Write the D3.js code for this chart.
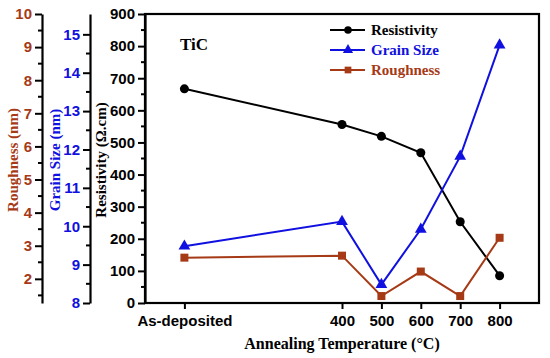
<!DOCTYPE html>
<html>
<head>
<meta charset="utf-8">
<script src="https://cdn.jsdelivr.net/npm/d3@7"></script>
<style>
body { margin: 0; background: white; }
svg { font-family: "Liberation Serif", "Times New Roman", serif; font-weight: bold; }
</style>
</head>
<body>
<svg id="mysvg" width="550" height="358"></svg>
<script>
// temperatures, 0 = as-deposited
let temps = [0, 400, 500, 600, 700, 800];
let tempTicks = [0, 400, 500, 600, 700, 800];
let tempLabels = ["As-deposited", "400", "500", "600", "700", "800"];

let resistivity = [667, 556, 519, 468, 253, 85];
let grainSize = [9.48, 10.12, 8.48, 9.92, 11.82, 14.72];
let roughness = [2.64, 2.7, 1.48, 2.22, 1.48, 3.24];

let resTicks = [0, 100, 200, 300, 400, 500, 600, 700, 800, 900];
let grainTicks = [8, 9, 10, 11, 12, 13, 14, 15];
let roughTicks = [2, 3, 4, 5, 6, 7, 8, 9, 10];

let blue = "#1010e0";
let brown = "#a63a16";

let plotLeft = 145, plotRight = 539, plotTop = 14, plotBottom = 303;

let svg = d3.select('#mysvg');

let x = d3.scaleLinear().domain([-100, 900]).range([plotLeft, plotRight]);
let yRes = d3.scaleLinear().domain([0, 900]).range([plotBottom, plotTop]);
let yGrain = d3.scaleLinear().domain([8, 15.53]).range([plotBottom, plotTop]);
let yRough = d3.scaleLinear().domain([1.27, 10]).range([plotBottom, plotTop]);

function styleAxis(g, color)
{
    g.select(".domain").attr("stroke", color).attr("stroke-width", 2.2);
    g.selectAll(".tick line").attr("stroke", color).attr("stroke-width", 2);
    g.selectAll(".tick text").attr("fill", color).style("font-size", "15px").style("font-weight", "bold");
}

function minorTicks(g, scale, xpos, values, color)
{
    g.append("g").selectAll("line")
        .data(values)
        .enter()
        .append("line")
        .attr("x1", xpos)
        .attr("x2", xpos - 4)
        .attr("y1", d => scale(d))
        .attr("y2", d => scale(d))
        .attr("stroke", color)
        .attr("stroke-width", 2);
}

// frame
svg.append("rect")
    .attr("x", plotLeft).attr("y", plotTop)
    .attr("width", plotRight - plotLeft).attr("height", plotBottom - plotTop)
    .attr("fill", "none").attr("stroke", "black").attr("stroke-width", 2.2);

// resistivity axis
let gRes = svg.append("g").attr("transform", "translate(" + plotLeft + ",0)")
    .call(d3.axisLeft(yRes).tickValues(resTicks).tickSize(7).tickSizeOuter(0).tickPadding(3));
styleAxis(gRes, "black");
minorTicks(svg, yRes, plotLeft, d3.range(50, 900, 100), "black");

// grain size axis
let gAxisX = 90;
let gGrain = svg.append("g").attr("transform", "translate(" + gAxisX + ",0)")
    .call(d3.axisLeft(yGrain).tickValues(grainTicks).tickSize(7).tickSizeOuter(0).tickPadding(3));
styleAxis(gGrain, "black");
gGrain.selectAll(".tick text").attr("fill", blue);
minorTicks(svg, yGrain, gAxisX, d3.range(8.5, 15.5, 1), "black");

// roughness axis
let rAxisX = 42;
let gRough = svg.append("g").attr("transform", "translate(" + rAxisX + ",0)")
    .call(d3.axisLeft(yRough).tickValues(roughTicks).tickSize(7).tickSizeOuter(0).tickPadding(3));
styleAxis(gRough, "black");
gRough.selectAll(".tick text").attr("fill", brown);
minorTicks(svg, yRough, rAxisX, d3.range(1.5, 10, 1), "black");

// x axis
let gx = svg.append("g").attr("transform", "translate(0," + plotBottom + ")")
    .call(d3.axisBottom(x).tickValues(tempTicks).tickSize(6).tickSizeOuter(0).tickPadding(6)
        .tickFormat((d, i) => tempLabels[i]));
styleAxis(gx, "black");
gx.select(".domain").remove();

// axis titles
svg.append("text")
    .attr("transform", "translate(18,160) rotate(-90)")
    .attr("text-anchor", "middle").attr("fill", brown).style("font-size", "15px")
    .text("Roughness (nm)");
svg.append("text")
    .attr("transform", "translate(60,160) rotate(-90)")
    .attr("text-anchor", "middle").attr("fill", blue).style("font-size", "15px")
    .text("Grain Size (nm)");
svg.append("text")
    .attr("transform", "translate(106,160) rotate(-90)")
    .attr("text-anchor", "middle").attr("fill", "black").style("font-size", "15px")
    .text("Resistivity (\u03A9.cm)");
svg.append("text")
    .attr("x", 342).attr("y", 349)
    .attr("text-anchor", "middle").attr("fill", "black").style("font-size", "16px")
    .text("Annealing Temperature (\u00B0C)");

svg.append("text")
    .attr("x", 180).attr("y", 50)
    .attr("fill", "black").style("font-size", "17px")
    .text("TiC");

// series
let series = [
    {name: "Resistivity", values: resistivity, y: yRes, color: "black", shape: d3.symbolCircle},
    {name: "Grain Size", values: grainSize, y: yGrain, color: blue, shape: d3.symbolTriangle},
    {name: "Roughness", values: roughness, y: yRough, color: brown, shape: d3.symbolSquare}
];

series.forEach(function(s)
{
    let pts = temps.map((t, i) => [x(t), s.y(s.values[i])]);
    svg.append("path")
        .attr("d", d3.line()(pts))
        .attr("fill", "none")
        .attr("stroke", s.color)
        .attr("stroke-width", 2);
    svg.append("g").selectAll("path")
        .data(pts)
        .enter()
        .append("path")
        .attr("transform", d => "translate(" + d[0] + "," + d[1] + ")")
        .attr("d", d3.symbol().type(s.shape).size(s.shape == d3.symbolTriangle ? 60 : 64))
        .attr("fill", s.color);
});

// legend
let legend = svg.selectAll("g.legend")
    .data(series)
    .enter()
    .append("g")
    .attr("class", "legend")
    .attr("transform", (d, i) => "translate(330," + (30 + i * 20) + ")");

legend.append("line")
    .attr("x1", 0).attr("x2", 35).attr("y1", 0).attr("y2", 0)
    .attr("stroke", d => d.color).attr("stroke-width", 2);
legend.append("path")
    .attr("transform", "translate(18,0)")
    .attr("d", d => d3.symbol().type(d.shape).size(45)())
    .attr("fill", d => d.color);
legend.append("text")
    .attr("x", 41).attr("y", 5)
    .attr("fill", d => d.color).style("font-size", "15px")
    .text(d => d.name);
</script>
</body>
</html>
